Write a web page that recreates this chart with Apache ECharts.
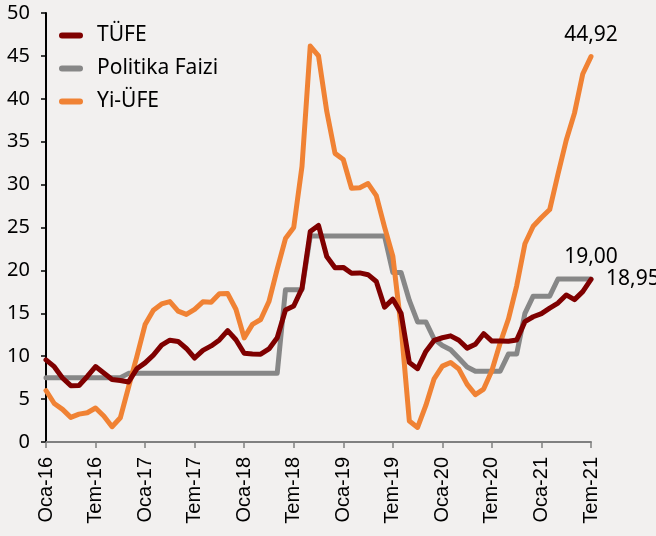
<!DOCTYPE html>
<html>
<head>
<meta charset="utf-8">
<script src="https://cdn.jsdelivr.net/npm/echarts@6/dist/echarts.min.js"></script>
<style>
  html, body { margin: 0; padding: 0; background: #f2f0ef; }
  #enflasyonChart { width: 656px; height: 536px; }
</style>
</head>
<body>
<div id="enflasyonChart"></div>
<script>
// aylar: Oca-16 .. Tem-21
var months = [
  'Oca-16', 'Şub-16', 'Mar-16', 'Nis-16', 'May-16', 'Haz-16', 'Tem-16', 'Ağu-16', 'Eyl-16', 'Eki-16', 'Kas-16', 'Ara-16',
  'Oca-17', 'Şub-17', 'Mar-17', 'Nis-17', 'May-17', 'Haz-17', 'Tem-17', 'Ağu-17', 'Eyl-17', 'Eki-17', 'Kas-17', 'Ara-17',
  'Oca-18', 'Şub-18', 'Mar-18', 'Nis-18', 'May-18', 'Haz-18', 'Tem-18', 'Ağu-18', 'Eyl-18', 'Eki-18', 'Kas-18', 'Ara-18',
  'Oca-19', 'Şub-19', 'Mar-19', 'Nis-19', 'May-19', 'Haz-19', 'Tem-19', 'Ağu-19', 'Eyl-19', 'Eki-19', 'Kas-19', 'Ara-19',
  'Oca-20', 'Şub-20', 'Mar-20', 'Nis-20', 'May-20', 'Haz-20', 'Tem-20', 'Ağu-20', 'Eyl-20', 'Eki-20', 'Kas-20', 'Ara-20',
  'Oca-21', 'Şub-21', 'Mar-21', 'Nis-21', 'May-21', 'Haz-21', 'Tem-21'
]

var tufe = [
  9.58, 8.78, 7.46, 6.57, 6.58, 7.64, 8.79, 8.05, 7.28, 7.16, 7.00, 8.53,
  9.22, 10.13, 11.29, 11.87, 11.72, 10.90, 9.79, 10.68, 11.20, 11.90, 12.98, 11.92,
  10.35, 10.26, 10.23, 10.85, 12.15, 15.39, 15.85, 17.90, 24.52, 25.24, 21.62, 20.30,
  20.35, 19.67, 19.71, 19.50, 18.71, 15.72, 16.65, 15.01, 9.26, 8.55, 10.56, 11.84,
  12.15, 12.37, 11.86, 10.94, 11.39, 12.62, 11.76, 11.77, 11.75, 11.89, 14.03, 14.60,
  14.97, 15.61, 16.19, 17.14, 16.59, 17.53, 18.95
]

var politikaFaizi = [
  7.5, 7.5, 7.5, 7.5, 7.5, 7.5, 7.5, 7.5, 7.5, 7.5, 8, 8,
  8, 8, 8, 8, 8, 8, 8, 8, 8, 8, 8, 8,
  8, 8, 8, 8, 8, 17.75, 17.75, 17.75, 24, 24, 24, 24,
  24, 24, 24, 24, 24, 24, 19.75, 19.75, 16.5, 14, 14, 12,
  11.25, 10.75, 9.75, 8.75, 8.25, 8.25, 8.25, 8.25, 10.25, 10.25, 15, 17,
  17, 17, 19, 19, 19, 19, 19
]

var yiUfe = [
  6.0, 4.49, 3.80, 2.87, 3.25, 3.41, 3.96, 3.03, 1.78, 2.82, 6.41, 9.94,
  13.69, 15.36, 16.09, 16.37, 15.26, 14.87, 15.45, 16.34, 16.28, 17.28, 17.30, 15.47,
  12.14, 13.71, 14.28, 16.37, 20.16, 23.71, 25.00, 32.13, 46.15, 45.01, 38.54, 33.64,
  32.93, 29.58, 29.64, 30.12, 28.71, 25.04, 21.66, 13.45, 2.45, 1.70, 4.26, 7.36,
  8.84, 9.26, 8.50, 6.71, 5.53, 6.17, 8.33, 11.53, 14.33, 18.20, 23.11, 25.15,
  26.16, 27.09, 31.20, 35.17, 38.33, 42.89, 44.92
]

var yTicks = { min: 0, max: 50, step: 5 }

var fontMain = '"Noto Sans", "DejaVu Sans", sans-serif'
var fontAxis = '"Liberation Sans", Arial, sans-serif'

// son noktaya etiket: sadece son eleman icin sembol acilir
function withEndLabel (values, color, position, distance) {
  return values.map(function (v, i) {
    if (i !== values.length - 1) {
      return v
    }
    return {
      value: v,
      symbol: 'circle',
      symbolSize: 2,
      itemStyle: { color: color },
      label: {
        show: true,
        position: position,
        distance: distance,
        formatter: function (p) {
          return p.value.toFixed(2).replace('.', ',')
        },
        color: '#000',
        fontFamily: fontMain,
        fontSize: 21
      }
    }
  })
}

var pill = 'path://M3,0 L21,0 A3,3 0 0 1 21,6 L3,6 A3,3 0 0 1 3,0 Z'

var chart = echarts.init(document.getElementById('enflasyonChart'))
chart.setOption({
  backgroundColor: '#f2f0ef',
  animation: false,
  grid: {
    left: 46,
    right: 65,
    top: 13,
    bottom: 94
  },
  legend: {
    orient: 'vertical',
    left: 54,
    top: 19,
    itemWidth: 24,
    itemHeight: 6,
    itemGap: 10,
    data: [
      { name: 'TÜFE', icon: pill },
      { name: 'Politika Faizi', icon: pill },
      { name: 'Yi-ÜFE', icon: pill }
    ],
    textStyle: {
      color: '#000',
      fontFamily: fontMain,
      fontSize: 21,
      lineHeight: 23,
      padding: [0, 0, 0, 9]
    }
  },
  xAxis: {
    type: 'category',
    data: months,
    boundaryGap: false,
    axisLine: { lineStyle: { color: '#808080', width: 2 } },
    axisTick: { interval: 5, length: 6, lineStyle: { color: '#808080', width: 1.5 } },
    axisLabel: {
      interval: 5,
      rotate: 90,
      margin: 15,
      color: '#000',
      fontFamily: fontAxis,
      fontSize: 20
    },
    splitLine: { show: false }
  },
  yAxis: {
    type: 'value',
    min: yTicks.min,
    max: yTicks.max,
    interval: yTicks.step,
    axisLine: { show: true, lineStyle: { color: '#000', width: 2 } },
    axisTick: { show: true, length: 5, lineStyle: { color: '#000', width: 1.5 } },
    axisLabel: {
      margin: 16,
      color: '#000',
      fontFamily: fontMain,
      fontSize: 20
    },
    splitLine: { show: false }
  },
  series: [
    {
      name: 'TÜFE',
      type: 'line',
      z: 4,
      symbol: 'none',
      showSymbol: true,
      data: withEndLabel(tufe, '#7f0000', 'right', 14),
      lineStyle: { color: '#7f0000', width: 5, join: 'round', cap: 'round' },
      itemStyle: { color: '#7f0000' }
    },
    {
      name: 'Politika Faizi',
      type: 'line',
      z: 2,
      symbol: 'none',
      showSymbol: true,
      data: withEndLabel(politikaFaizi, '#878787', 'top', 10),
      lineStyle: { color: '#878787', width: 5, join: 'round', cap: 'round' },
      itemStyle: { color: '#878787' }
    },
    {
      name: 'Yi-ÜFE',
      type: 'line',
      z: 3,
      symbol: 'none',
      showSymbol: true,
      data: withEndLabel(yiUfe, '#f08234', 'top', 10),
      lineStyle: { color: '#f08234', width: 5, join: 'round', cap: 'round' },
      itemStyle: { color: '#f08234' }
    }
  ]
})
</script>
</body>
</html>
